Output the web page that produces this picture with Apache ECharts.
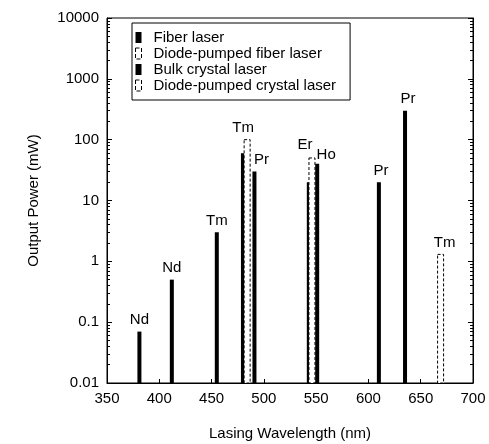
<!DOCTYPE html>
<html>
<head>
<meta charset="utf-8">
<script src="https://cdn.jsdelivr.net/npm/echarts@6/dist/echarts.min.js"></script>
<style>
  html, body { margin: 0; padding: 0; background: #fff; }
  #chart { width: 489px; height: 444px; }
</style>
</head>
<body>
<div id="chart"></div>
<script>
// Upconversion lasers: output power against lasing wavelength.
const seriesNames = ['Fiber laser', 'Diode-pumped fiber laser', 'Bulk crystal laser', 'Diode-pumped crystal laser'];

// [wavelength (nm), output power (mW), ion label]
const fiberLaser = [
  [381, 0.07, 'Nd'], [412, 0.5, 'Nd'], [455, 3, 'Tm'], [480, 60, ''],
  [491, 30, 'Pr'], [543, 20, ''], [610, 20, 'Pr'], [635, 300, 'Pr']
];
const diodeFiberLaser = [[484, 100, 'Tm'], [546, 50, 'Er']];
const bulkCrystalLaser = [[551, 40, 'Ho']];
const diodeCrystalLaser = [[669, 1.3, 'Tm']];

const xTickValues = [350, 400, 450, 500, 550, 600, 650, 700];
const yTickLabels = ['0.01', '0.1', '1', '10', '100', '1000', '10000'];

const xMin = xTickValues[0], xMax = xTickValues[xTickValues.length - 1];
const yMin = Number(yTickLabels[0]), yMax = Number(yTickLabels[yTickLabels.length - 1]);

const FONT = '"Liberation Sans", Arial, sans-serif';

// small sideways nudges so neighbouring ion labels do not collide (keyed by wavelength)
const labelShift = { 484: [-4, 0], 491: [7, 0], 546: [-7, -2], 551: [9, 2], 610: [2, 0], 635: [3, 0], 669: [4, 0] };

function barRenderer(rows, solid) {
  return function (params, api) {
    const x = api.value(0);
    const top = api.coord([x, api.value(1)]);
    const base = api.coord([x, yMin]);
    const w = solid ? 4 : 6;
    const children = [{
      type: 'rect',
      shape: { x: top[0] - w / 2, y: top[1], width: w, height: base[1] - top[1] },
      style: solid
        ? { fill: '#000' }
        : { fill: '#fff', stroke: '#000', lineWidth: 1, lineDash: [3, 2] }
    }];
    const row = rows[params.dataIndex];
    if (row[2]) {
      const s = labelShift[row[0]] || [0, 0];
      children.push({
        type: 'text',
        x: top[0] + s[0],
        y: top[1] - 4 + s[1],
        style: { text: row[2], fill: '#000', font: '15px ' + FONT, align: 'center', verticalAlign: 'bottom' }
      });
    }
    return { type: 'group', children };
  };
}

function makeSeries(name, rows, solid) {
  return {
    name,
    type: 'custom',
    renderItem: barRenderer(rows, solid),
    encode: { x: 0, y: 1 },
    data: rows.map(r => [r[0], r[1]]),
    itemStyle: solid ? { color: '#000' } : { color: '#fff', borderColor: '#000', borderWidth: 1, borderType: 'dashed' },
    clip: false
  };
}

const solidIcon = { color: '#000' };
const openIcon = { color: '#fff', borderColor: '#000', borderWidth: 1, borderType: 'dashed' };

const chart = echarts.init(document.getElementById('chart'), null, { renderer: 'canvas' });
chart.setOption({
  animation: false,
  backgroundColor: '#fff',
  textStyle: { fontFamily: FONT },
  grid: {
    left: 107, right: 16, top: 18, bottom: 61,
    outerBoundsMode: 'none', containLabel: false,
    show: true, borderColor: '#000', borderWidth: 1, backgroundColor: 'transparent'
  },
  legend: {
    orient: 'vertical',
    left: 132, top: 23,
    padding: [7, 14, 7, 3],
    borderColor: '#000', borderWidth: 1,
    backgroundColor: '#fff',
    itemWidth: 6, itemHeight: 11, itemGap: 1,
    icon: 'rect',
    textStyle: { fontFamily: FONT, fontSize: 15, color: '#000', lineHeight: 13, padding: [0, 0, 0, 7] },
    selectedMode: false,
    data: [
      { name: seriesNames[0], itemStyle: solidIcon },
      { name: seriesNames[1], itemStyle: openIcon },
      { name: seriesNames[2], itemStyle: solidIcon },
      { name: seriesNames[3], itemStyle: openIcon }
    ]
  },
  xAxis: {
    type: 'value',
    min: xMin, max: xMax, interval: 50,
    name: 'Lasing Wavelength (nm)',
    nameLocation: 'middle', nameGap: 43,
    nameTextStyle: { fontFamily: FONT, fontSize: 15, color: '#000' },
    axisLine: { lineStyle: { color: '#000', width: 1 } },
    axisTick: { inside: true, length: 4, lineStyle: { color: '#000' } },
    axisLabel: { fontFamily: FONT, fontSize: 15, color: '#000', margin: 8 },
    splitLine: { show: false }
  },
  yAxis: [{
    type: 'log', logBase: 10,
    min: yMin, max: yMax,
    name: 'Output Power (mW)',
    nameLocation: 'middle', nameGap: 66,
    nameTextStyle: { fontFamily: FONT, fontSize: 15, color: '#000' },
    axisLine: { show: true, lineStyle: { color: '#000', width: 1 } },
    axisTick: { show: true, inside: true, length: 5, lineStyle: { color: '#000' } },
    minorTick: { show: true, splitNumber: 9, length: 3, lineStyle: { color: '#000' } },
    axisLabel: {
      fontFamily: FONT, fontSize: 15, color: '#000', margin: 8,
      formatter: v => yTickLabels[Math.round(Math.log10(v)) + 2]
    },
    splitLine: { show: false }
  }, {
    type: 'log', logBase: 10,
    min: yMin, max: yMax,
    position: 'right',
    axisLine: { show: true, lineStyle: { color: '#000', width: 1 } },
    axisTick: { show: true, inside: true, length: 5, lineStyle: { color: '#000' } },
    minorTick: { show: true, splitNumber: 9, length: 3, lineStyle: { color: '#000' } },
    axisLabel: { show: false },
    splitLine: { show: false }
  }],
  series: [
    makeSeries(seriesNames[0], fiberLaser, true),
    makeSeries(seriesNames[1], diodeFiberLaser, false),
    makeSeries(seriesNames[2], bulkCrystalLaser, true),
    makeSeries(seriesNames[3], diodeCrystalLaser, false)
  ]
});
</script>
</body>
</html>
